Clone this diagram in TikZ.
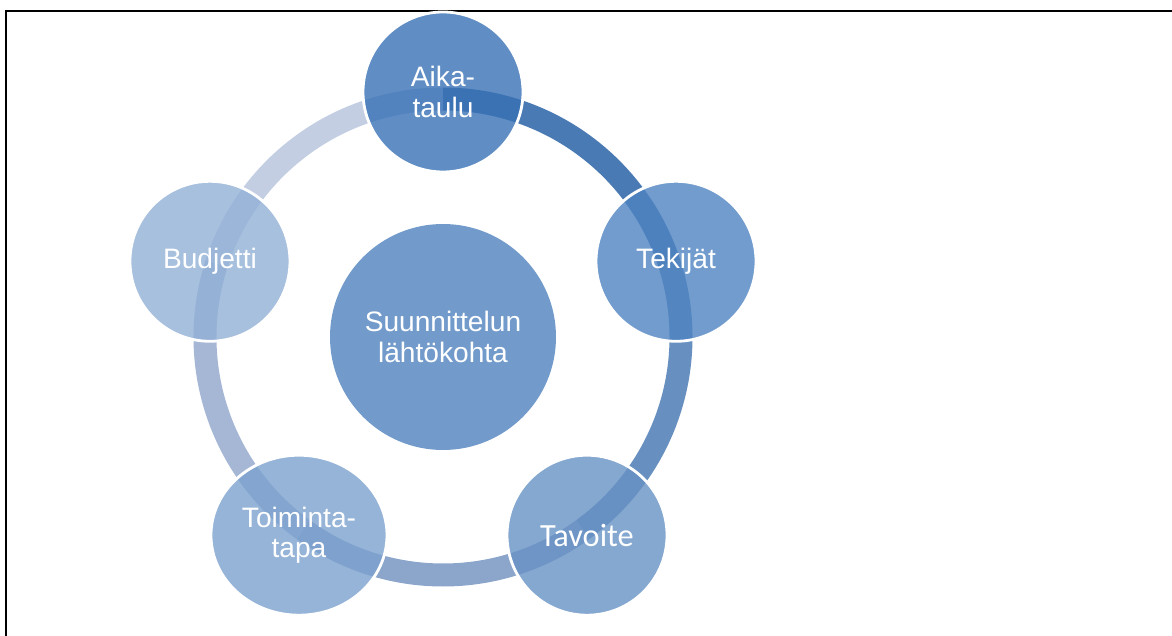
\documentclass[tikz,border=0pt]{standalone}
\usepackage{fontspec}
\setmainfont{Liberation Sans}
\newfontfamily\carlitofont{Carlito}
\usetikzlibrary{shapes.geometric}
\definecolor{aikaBlue}{RGB}{56,113,181}
\definecolor{tekijatBlue}{RGB}{78,131,193}
\definecolor{tavoiteBlue}{RGB}{103,146,196}
\definecolor{toimintaBlue}{RGB}{123,161,206}
\definecolor{budjettiBlue}{RGB}{145,176,214}
\definecolor{centerBlue}{RGB}{114,155,203}
\definecolor{arcOne}{RGB}{74,122,180}
\definecolor{arcTwo}{RGB}{103,144,192}
\definecolor{arcThree}{RGB}{140,165,203}
\definecolor{arcFour}{RGB}{166,183,214}
\definecolor{arcFive}{RGB}{195,206,227}
\tikzset{CycleNode/.style={%
    shape=circle,%
    draw=white,%
    line width=2pt,%
    fill opacity=0.8,%
    text opacity=1,%
    text=white,%
    minimum size=4cm,%
    inner sep=0pt,%
    align=center,%
    font=\fontsize{20}{21.5}\selectfont,%
}}
\tikzset{CenterNode/.style={%
    shape=circle,%
    fill=centerBlue,%
    text=white,%
    minimum size=5.65cm,%
    inner sep=0pt,%
    align=center,%
    font=\fontsize{20}{21.5}\selectfont,%
}}
\tikzset{RingArc/.style={%
    line width=0.575cm,%
}}

\begin{document}
\begin{tikzpicture}
    \useasboundingbox (-11.075,-7.45) rectangle (18.225,8.425);
    \draw[line width=0.05cm] (-10.925,-7.6) -- (-10.925,8.15) -- (18.4,8.15);

    \coordinate (ringAika) at (90:5.95);
    \coordinate (ringTekijat) at (18:5.95);
    \coordinate (ringTavoite) at (-54:5.95);
    \coordinate (ringToiminta) at (-126:5.95);
    \coordinate (ringBudjetti) at (162:5.95);

    \draw[RingArc, draw=arcOne] (ringAika) arc[start angle=90, end angle=18, radius=5.95];
    \draw[RingArc, draw=arcTwo] (ringTekijat) arc[start angle=18, end angle=-54, radius=5.95];
    \draw[RingArc, draw=arcThree] (ringTavoite) arc[start angle=-54, end angle=-126, radius=5.95];
    \draw[RingArc, draw=arcFour] (ringToiminta) arc[start angle=-126, end angle=-198, radius=5.95];
    \draw[RingArc, draw=arcFive] (ringBudjetti) arc[start angle=162, end angle=90, radius=5.95];

    \node[CenterNode] (lahto) at (0,0) {Suunnittelun\\lähtökohta};
    \node[CycleNode, fill=aikaBlue] (aika) at (90:6.125) {Aika-\\taulu};
    \node[CycleNode, fill=tekijatBlue] (tekijat) at (18:6.125) {Tekijät};
    \node[CycleNode, fill=tavoiteBlue, font=\carlitofont\fontsize{23}{24}\selectfont] (tavoite) at (-54:6.125) {Tavoite};
    \node[CycleNode, shape=ellipse, minimum width=4.4cm, minimum height=4cm, fill=toimintaBlue] (toiminta) at (-126:6.125) {Toiminta-\\tapa};
    \node[CycleNode, fill=budjettiBlue] (budjetti) at (162:6.125) {Budjetti};
\end{tikzpicture}
\end{document}
